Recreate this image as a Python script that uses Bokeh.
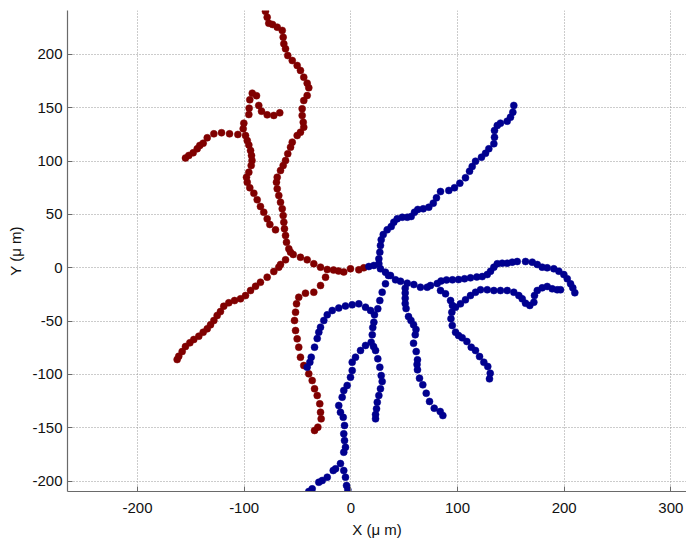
from bokeh.plotting import figure
from bokeh.models import Range1d, FixedTicker, ColumnDataSource
from bokeh.embed import file_html
from bokeh.resources import INLINE

# ---------------- data (µm) ----------------
x_ticks = [-200, -100, 0, 100, 200, 300]
y_ticks = [-200, -150, -100, -50, 0, 50, 100, 150, 200]

# red cell
red_top_x = [-54.0, -58.1, -60.3, -61.2, -62.2, -62.8, -63.4, -64.3, -65.9, -67.5, -69.0, -69.7, -69.0, -65.9, -63.4,
             -61.2, -59.1, -56.5, -54.9, -50.3, -47.2, -44.1, -44.6, -45.6, -45.6, -44.1, -40.9, -39.4, -40.9, -44.1,
             -47.2, -50.3, -54.9, -59.1, -61.2, -62.8, -63.4, -64.3, -69.0, -73.4, -76.9, -78.4, -80.0]
red_top_y = [12.5, 17.8, 24.0, 30.3, 36.6, 42.8, 49.0, 55.3, 61.5, 67.8, 74.1, 80.3, 84.9, 91.2, 95.9,
             100.6, 106.9, 113.1, 117.8, 124.0, 127.1, 131.8, 136.5, 142.8, 149.1, 156.8, 161.5, 168.8, 173.1, 178.7,
             185.0, 189.7, 194.3, 199.0, 205.3, 210.0, 216.2, 222.5, 225.6, 228.1, 229.3, 234.9, 240.4]

red_soma_x = [-47.2, -40.9, -34.7, -28.4, -22.1, -16.2, -11.5, -6.6, -0.3, 7.5, 12.2]
red_soma_y = [9.9, 7.5, 3.8, 0.6, -1.6, -2.1, -3.0, -3.9, -0.9, -1.9, 0.0]

red_hook_x = [-70.6, -75.9, -78.4, -81.6, -84.7, -87.8, -90.9, -94.7, -97.1, -97.8, -95.6, -93.4, -92.6, -93.1, -94.0,
              -95.6, -97.1, -98.7, -100.9, -100.3, -95.6, -95.3, -94.7, -92.4, -88.4, -86.3, -83.7, -78.4, -72.2, -66.6]
red_hook_y = [35.6, 40.6, 45.9, 52.1, 57.5, 63.8, 69.9, 75.0, 80.3, 84.9, 89.6, 95.9, 100.6, 105.3, 110.0,
              115.2, 119.3, 124.0, 130.3, 135.6, 143.7, 149.6, 157.5, 163.7, 161.3, 152.2, 146.8, 143.4, 142.8, 145.3]

red_far_x = [-105.9, -113.7, -121.2, -128.4, -134.6, -138.4, -141.6, -144.0, -147.8, -151.9, -155.0]
red_far_y = [125.0, 125.6, 126.6, 125.6, 121.9, 116.8, 114.7, 111.6, 107.8, 105.3, 102.9]

red_lowleft_x = [-56.5, -61.2, -65.9, -67.5, -72.2, -78.4, -84.7, -89.3, -94.0, -98.7, -103.4, -109.0, -114.4, -119.1,
                 -122.2, -125.3, -128.4, -131.5, -134.6, -138.4, -142.5, -147.2, -150.9, -155.0, -158.1, -161.3, -162.8]
red_lowleft_y = [14.6, 7.5, 3.1, 0.6, -3.5, -8.8, -13.5, -17.3, -21.3, -26.0, -29.1, -30.7, -32.8, -36.0,
                 -41.0, -44.7, -49.4, -53.4, -57.2, -60.4, -64.1, -67.2, -70.3, -73.8, -78.5, -82.9, -86.0]

red_low_x = [-23.7, -28.4, -34.7, -42.5, -48.8, -50.9, -51.8, -52.8, -51.8, -50.3, -48.8, -47.2, -44.1, -39.4,
             -36.2, -34.0, -31.5, -29.1, -28.4, -27.8, -30.9, -34.0]
red_low_y = [-8.8, -16.6, -22.9, -23.8, -27.6, -33.8, -41.6, -49.4, -58.8, -66.6, -74.4, -83.8, -91.6, -99.4,
             -105.7, -113.4, -119.7, -127.5, -135.4, -141.6, -149.4, -152.5]

# blue cell
blue_up_x = [16.9, 21.6, 26.3, 26.3, 27.2, 27.8, 28.5, 30.4, 34.1, 37.9, 40.3, 43.5, 48.2, 52.9, 56.6, 59.7, 62.8,
             67.9, 73.1, 77.3, 80.3, 84.1, 91.9, 97.2, 102.2, 107.5, 111.3, 113.8, 116.9, 122.5, 126.3, 129.4, 134.1,
             134.7, 134.7, 137.3, 140.3, 146.6, 149.7, 151.9, 152.8]
blue_up_y = [1.2, 2.2, 3.8, 8.4, 14.6, 20.9, 26.3, 31.2, 35.6, 38.7, 42.8, 45.9, 47.4, 47.4, 48.1, 52.1, 54.7,
             55.3, 56.8, 60.6, 65.6, 71.5, 72.5, 75.0, 79.3, 84.4, 90.6, 95.0, 99.9, 103.7, 107.4, 111.6, 116.3,
             122.4, 128.7, 133.4, 135.6, 137.4, 141.2, 145.9, 152.2]

blue_right_x = [27.8, 32.5, 37.2, 41.9, 46.6, 52.9, 59.1, 65.3, 71.6, 74.7, 81.0, 84.6, 89.7, 95.3, 101.0, 106.6,
                112.2, 118.1, 123.2, 127.9, 131.0, 134.1, 137.3, 141.9, 146.6, 151.3, 156.0, 163.8, 170.1, 174.8,
                179.4, 184.1, 190.3, 195.0, 199.7, 202.9, 206.0, 208.1, 210.0]
blue_right_y = [-0.9, -4.1, -7.2, -11.3, -12.6, -14.4, -15.7, -18.2, -18.2, -16.6, -14.7, -12.4, -11.4, -11.3, -11.0,
                -10.3, -9.4, -8.6, -8.2, -6.3, -3.2, 0.6, 3.8, 4.3, 4.3, 5.3, 5.9, 5.9, 5.3, 3.1,
                0.6, 0.0, -0.9, -3.2, -6.3, -10.3, -15.0, -18.8, -23.4]

blue_mid_x = [51.0, 51.0, 51.0, 51.0, 51.8, 54.1, 56.4, 58.8, 61.1, 60.4, 58.8, 61.3, 62.5, 62.1, 62.5, 64.4,
              67.5, 70.7, 73.8, 78.2, 83.8, 86.3]
blue_mid_y = [-19.1, -23.6, -28.5, -33.5, -38.2, -45.7, -49.4, -53.4, -57.8, -62.8, -70.7, -78.5, -86.3, -90.6,
              -95.6, -103.5, -109.7, -117.6, -125.3, -131.6, -134.7, -138.5]

blue_rdown_x = [84.1, 88.8, 93.5, 95.3, 94.7, 93.9, 95.1, 98.2, 101.0, 104.4, 108.8, 112.9, 116.9, 120.7, 124.7,
                128.4, 130.7, 130.0]
blue_rdown_y = [-21.3, -24.4, -30.7, -35.3, -41.6, -47.8, -54.1, -60.4, -63.5, -65.6, -69.1, -74.4, -77.5, -83.2,
                -88.5, -92.5, -98.8, -104.1]

blue_rlow_x = [98.2, 102.8, 107.5, 112.2, 116.9, 121.6, 127.9, 134.1, 140.3, 146.6, 152.8, 157.5, 160.7, 163.8,
               167.8, 171.6, 172.2, 174.8, 179.4, 184.1, 188.8, 193.5, 196.6]
blue_rlow_y = [-36.9, -33.8, -30.0, -26.0, -22.9, -20.6, -20.6, -21.3, -21.3, -21.3, -22.9, -26.0, -29.1, -33.2,
               -35.3, -32.3, -26.0, -21.3, -18.8, -17.5, -19.7, -20.6, -20.6]

blue_trunk_x = [35.3, 32.5, 29.4, 27.2, 25.3, 22.2, 21.6, 20.6, 20.1, 19.1, 21.3, 23.2, 25.3, 27.2, 28.5, 29.4,
                27.8, 26.3, 24.8, 24.1, 23.2, 23.2]
blue_trunk_y = [-7.2, -15.0, -22.9, -30.7, -38.4, -44.1, -51.0, -56.0, -62.8, -69.8, -73.8, -77.5, -85.3, -93.2,
                -101.0, -106.6, -113.4, -119.7, -126.0, -132.2, -137.5, -141.6]

blue_left_x = [18.5, 13.8, 7.5, 1.3, -5.0, -11.3, -17.4, -22.1, -25.3, -28.4, -30.0, -31.5, -34.0, -37.1, -38.4, -40.9]
blue_left_y = [-40.0, -36.9, -33.8, -34.7, -35.8, -37.7, -40.0, -44.1, -49.4, -55.7, -60.4, -66.3, -74.4, -83.8,
               -88.5, -93.2]

blue_bottom_x = [13.8, 9.1, 4.4, 1.3, 1.3, -0.3, -3.4, -6.6, -8.1, -11.3, -9.7, -7.1, -5.9, -6.6, -5.9, -5.0, -6.6]
blue_bottom_y = [-72.8, -77.5, -83.8, -88.5, -96.3, -102.6, -110.3, -115.0, -121.3, -129.1, -135.4, -140.1, -147.8,
                 -155.6, -161.9, -168.2, -172.9]

blue_tail_x = [-9.7, -6.6, -5.0, -4.0, -2.8, -14.3, -16.5, -22.1, -26.8, -30.0, -36.2, -39.4]
blue_tail_y = [-183.5, -190.0, -196.3, -204.1, -208.1, -188.4, -190.0, -196.3, -199.4, -201.0, -207.2, -209.7]

red_x = red_top_x + red_soma_x + red_hook_x + red_far_x + red_lowleft_x + red_low_x
red_y = red_top_y + red_soma_y + red_hook_y + red_far_y + red_lowleft_y + red_low_y
blue_x = (blue_up_x + blue_right_x + blue_mid_x + blue_rdown_x + blue_rlow_x + blue_trunk_x
          + blue_left_x + blue_bottom_x + blue_tail_x)
blue_y = (blue_up_y + blue_right_y + blue_mid_y + blue_rdown_y + blue_rlow_y + blue_trunk_y
          + blue_left_y + blue_bottom_y + blue_tail_y)

RED = "#800000"
BLUE = "#00008f"
FONT = "Liberation Sans"

p = figure(width=686, height=542,
           x_range=Range1d(-265.6, 314.7), y_range=Range1d(-209.7, 241.2),
           output_backend="svg", toolbar_location=None,
           min_border_left=67, min_border_right=0, min_border_top=10, min_border_bottom=51)
p.outline_line_color = None
p.background_fill_color = "white"
p.border_fill_color = "white"

p.scatter(x="x", y="y", source=ColumnDataSource(dict(x=red_x, y=red_y)),
          size=7, fill_color=RED, line_color=RED, line_width=0.5)
p.scatter(x="x", y="y", source=ColumnDataSource(dict(x=blue_x, y=blue_y)),
          size=7, fill_color=BLUE, line_color=BLUE, line_width=0.5)

p.xaxis.ticker = FixedTicker(ticks=x_ticks)
p.yaxis.ticker = FixedTicker(ticks=y_ticks)
p.xaxis.major_label_overrides = {t: str(t) for t in x_ticks}
p.yaxis.major_label_overrides = {t: str(t) for t in y_ticks}
p.xaxis.axis_label = "X (μ m)"
p.yaxis.axis_label = "Y (μ m)"

for ax in (p.xaxis, p.yaxis):
    ax.axis_line_color = "#6a6a6a"
    ax.axis_line_width = 1.2
    ax.major_tick_line_color = "#6a6a6a"
    ax.major_tick_in = 5
    ax.major_tick_out = 0
    ax.minor_tick_line_color = None
    ax.major_label_text_font = FONT
    ax.major_label_text_font_size = "15px"
    ax.major_label_text_color = "#111111"
    ax.axis_label_text_font = FONT
    ax.axis_label_text_font_size = "15px"
    ax.axis_label_text_font_style = "normal"
    ax.axis_label_text_color = "#111111"

p.xaxis.major_label_standoff = 11
p.xaxis.axis_label_standoff = 5
p.yaxis.major_label_standoff = 5
p.yaxis.axis_label_standoff = 5

p.grid.grid_line_color = "#999999"
p.grid.grid_line_dash = "1 2"
p.grid.grid_line_width = 1

open("out.html", "w").write(file_html(p, INLINE))
